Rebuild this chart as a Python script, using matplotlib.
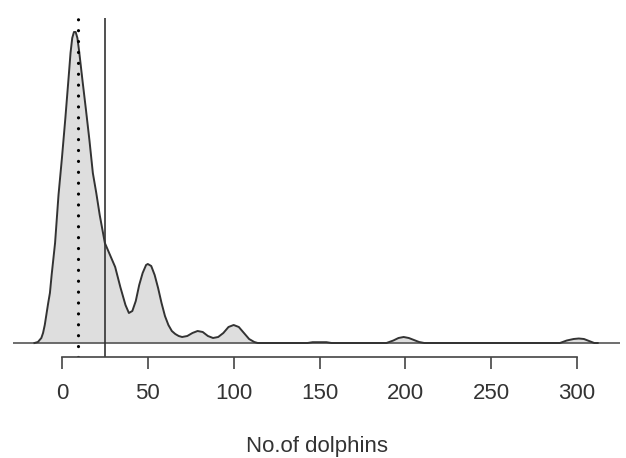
import matplotlib
matplotlib.use('Agg')
import matplotlib.pyplot as plt
import numpy as np

# density curve of group size (x = no. of dolphins)
dens_x = [-16, -14, -12, -11, -10, -8, -7, -6, -4, -2, 0, 2, 4, 5, 6, 7, 8, 9,
          10, 12, 14, 16, 18, 20, 22, 25, 28, 31, 34, 37, 39, 41, 43, 45, 47, 49,
          50, 52, 54, 56, 58, 60, 62, 64, 66, 68, 70, 73, 76, 79, 82, 85, 88, 91,
          94, 97, 100, 103, 106, 109, 112, 114,
          143, 146, 154, 157,
          189, 193, 196, 199, 202, 205, 208, 211,
          290, 294, 298, 301, 304, 307, 310, 312]
dens_y = [0, 1, 5, 10, 18, 40, 50, 68, 100, 148, 185, 225, 268, 290, 305, 311, 311, 305,
          292, 262, 233, 203, 170, 150, 128, 100, 88, 76, 56, 38, 30, 32, 42, 58, 70, 78,
          79, 77, 68, 55, 40, 27, 18, 12, 9, 7, 6, 7, 10, 12, 11, 7, 5, 6,
          10, 16, 18, 16, 10, 4, 1, 0,
          0, 0.8, 0.8, 0,
          0, 2.5, 5, 6, 5, 3, 1, 0,
          0, 2.5, 4, 4.5, 4, 2, 0, 0]

median_size = 9.5
mean_size = 25
ticks = [0, 50, 100, 150, 200, 250, 300]

plt.rcParams['font.family'] = ['Liberation Sans', 'DejaVu Sans']

fig = plt.figure(figsize=(6.26, 4.58), dpi=100, facecolor='white')
W, H = 626, 458
ax = fig.add_axes([13 / W, 1 - 357 / H, (620 - 13) / W, (357 - 18) / H])

ax.fill_between(dens_x, dens_y, 0, color='#dedede', lw=0)
ax.axhline(0, color='#555555', lw=1.2)
ax.plot(dens_x, dens_y, color='#333333', lw=1.4)
ax.axvline(median_size, color='black', lw=2.3, linestyle=(0, (0.01, 3.4)),
           dash_capstyle='round')
ax.axvline(mean_size, color='#333333', lw=1.2)

ax.set_xlim(-28.5, 325)
ax.set_ylim(-14, 325)
ax.set_yticks([])
for s in ['top', 'right', 'left']:
    ax.spines[s].set_visible(False)
ax.spines['bottom'].set_bounds(0, 300)
ax.spines['bottom'].set_color('#444444')
ax.spines['bottom'].set_linewidth(1.2)
ax.set_xticks(ticks)
ax.set_xticklabels([str(t) for t in ticks])
ax.tick_params(axis='x', length=8.5, width=1.2, color='#444444', pad=10,
               labelsize=16, labelcolor='#333333')
ax.set_xlabel('No.of dolphins', fontsize=16, color='#333333', labelpad=23)

fig.savefig('out.png', dpi=100, facecolor='white')
